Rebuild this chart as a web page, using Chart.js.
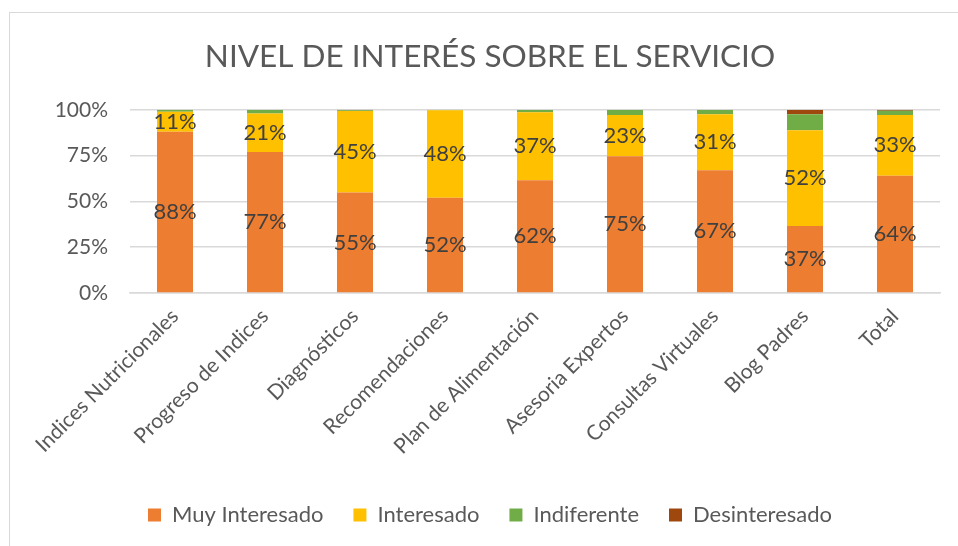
<!DOCTYPE html>
<html>
<head>
<meta charset="utf-8">
<script src="https://cdn.jsdelivr.net/npm/chart.js@4/dist/chart.umd.min.js"></script>
<style>
    html, body { margin: 0; padding: 0; background: #fff; }
    #frame {
        position: absolute; left: 9px; top: 12px; width: 980px; height: 560px;
        border: 1px solid #d9d9d9; box-sizing: border-box;
    }
    #wrap { position: absolute; left: 0; top: 0; width: 958px; height: 546px; }
</style>
</head>
<body>
<div id="frame"></div>
<div id="wrap"><canvas id="chart" width="958" height="546"></canvas></div>
<script>
    // Categories and series (percent of answers)
    var categories = ['Indices Nutricionales', 'Progreso de Indices', 'Diagnósticos', 'Recomendaciones',
        'Plan de Alimentación', 'Asesoria Expertos', 'Consultas Virtuales', 'Blog Padres', 'Total'];
    var muyInteresado = [88, 77, 54.8, 52, 61.6, 74.6, 67, 36.6, 64];
    var interesado    = [11, 21, 44.6, 47.7, 37, 22.6, 30.6, 52.2, 33.2];
    var indiferente   = [1, 2, 0.3, 0.3, 1.4, 2.8, 2.4, 8.8, 2.3];
    var desinteresado = [0, 0, 0.3, 0, 0, 0, 0, 2.4, 0.5];
    var yTicks = [0, 25, 50, 75, 100];

    var fontName = 'Lato, "Open Sans", sans-serif';
    var textColor = '#595959';

    // Draw the value labels in the middle of the two main segments
    var segmentLabels = {
        id: 'segmentLabels',
        afterDatasetsDraw: function(chart) {
            var ctx = chart.ctx;
            ctx.save();
            ctx.font = '22px ' + fontName;
            ctx.fillStyle = '#404040';
            ctx.textAlign = 'center';
            ctx.textBaseline = 'middle';
            [0, 1].forEach(function(di) {
                var meta = chart.getDatasetMeta(di);
                meta.data.forEach(function(bar, i) {
                    var v = chart.data.datasets[di].data[i];
                    var mid = (bar.y + bar.base) / 2;
                    ctx.fillText(Math.round(v) + '%', bar.x, mid);
                });
            });
            ctx.restore();
        }
    };

    function ds(label, data, color) {
        return {
            label: label,
            data: data,
            backgroundColor: color,
            borderWidth: 0,
            barPercentage: 0.4,
            categoryPercentage: 1
        };
    }

    new Chart(document.getElementById('chart'), {
        type: 'bar',
        data: {
            labels: categories,
            datasets: [
                ds('Muy Interesado', muyInteresado, '#ED7D31'),
                ds('Interesado', interesado, '#FFC000'),
                ds('Indiferente', indiferente, '#70AD47'),
                ds('Desinteresado', desinteresado, '#9E480E')
            ]
        },
        options: {
            responsive: false,
            animation: false,
            layout: { padding: { left: 40, right: 18, top: 35, bottom: 10 } },
            plugins: {
                title: {
                    display: true,
                    text: 'NIVEL DE INTERÉS SOBRE EL SERVICIO',
                    color: textColor,
                    font: { family: fontName, size: 31.5, weight: 'normal' },
                    padding: { top: 3, bottom: 34 }
                },
                legend: {
                    position: 'bottom',
                    labels: {
                        color: textColor,
                        font: { family: fontName, size: 22 },
                        boxWidth: 13,
                        boxHeight: 13,
                        padding: 30
                    }
                },
                tooltip: { enabled: false }
            },
            scales: {
                x: {
                    stacked: true,
                    grid: { display: false },
                    border: { color: '#d9d9d9', width: 1.5 },
                    ticks: {
                        color: textColor,
                        font: { family: fontName, size: 21 },
                        minRotation: 45,
                        maxRotation: 45,
                        autoSkip: false
                    },
                    afterFit: function(scale) { scale.height = 181; }
                },
                y: {
                    stacked: true,
                    min: 0,
                    max: 100,
                    afterBuildTicks: function(scale) {
                        scale.ticks = yTicks.map(function(v) { return { value: v }; });
                    },
                    grid: { color: '#d9d9d9', lineWidth: 1.5, drawTicks: false },
                    border: { display: false },
                    ticks: {
                        color: textColor,
                        font: { family: fontName, size: 21 },
                        padding: 22,
                        callback: function(v) { return v + '%'; }
                    },
                    afterFit: function(scale) { scale.width = 90; }
                }
            }
        },
        plugins: [segmentLabels]
    });
</script>
</body>
</html>
